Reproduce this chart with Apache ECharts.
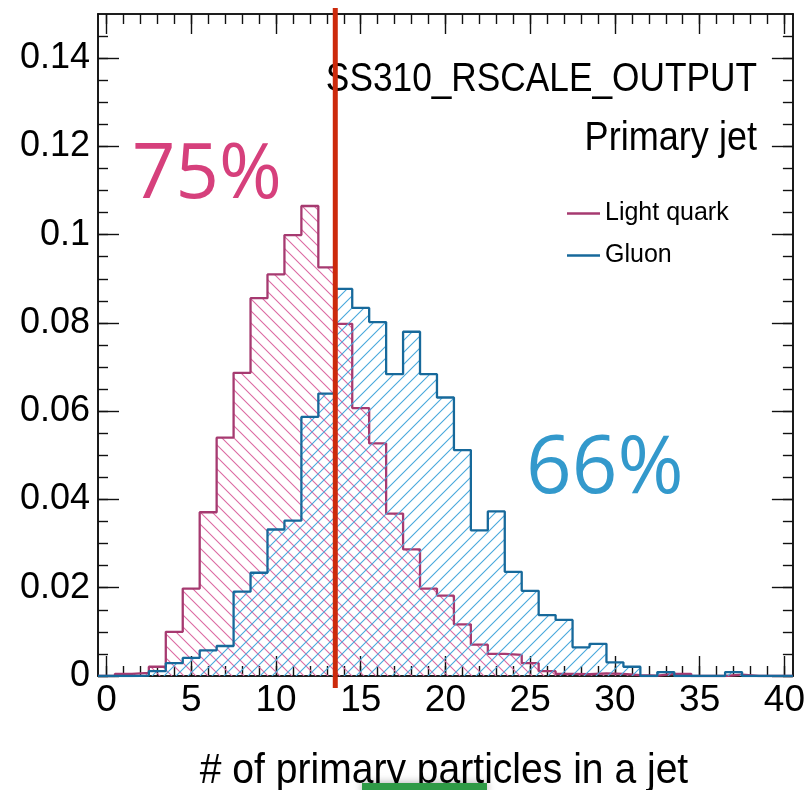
<!DOCTYPE html>
<html>
<head>
<meta charset="utf-8">
<script src="https://cdn.jsdelivr.net/npm/echarts@6/dist/echarts.min.js"></script>
<style>
  html, body { margin: 0; padding: 0; background: #fff; }
  #chart { width: 808px; height: 790px; }
</style>
</head>
<body>
<div id="chart"></div>
<script>
// bin contents, one entry per integer bin 0..40 (bin width 1)
const lightQuark = [
  0, 0.0005, 0.0007, 0.0021, 0.0100, 0.0198, 0.0371, 0.0540, 0.0687, 0.0856,
  0.0910, 0.0999, 0.1065, 0.0926, 0.0798, 0.0607, 0.0527, 0.0368, 0.0287, 0.0198,
  0.0182, 0.0117, 0.0071, 0.0050, 0.0048, 0.0029, 0.0011, 0.0005, 0.0004, 0.0006,
  0.0005, 0.0002, 0.0001, 0.0005, 0.0005, 0, 0, 0.0003, 0, 0, 0
]
const gluon = [
  0, 0, 0.0001, 0.0011, 0.0029, 0.0041, 0.0058, 0.0068, 0.0191, 0.0234,
  0.0332, 0.0352, 0.0587, 0.0640, 0.0877, 0.0834, 0.0802, 0.0684, 0.0780, 0.0684,
  0.0631, 0.0512, 0.0330, 0.0373, 0.0236, 0.0193, 0.0138, 0.0127, 0.0065, 0.0073,
  0.0031, 0.0021, 0, 0.0009, 0, 0, 0, 0.0009, 0, 0, 0
]
const seriesNames = ['Light quark', 'Gluon']
const cutValue = 13.5

const xMajorTicks = [0, 5, 10, 15, 20, 25, 30, 35, 40]
const xMinorTicks = Array.from({ length: 41 }, (_, i) => i)
const yMajorTicks = [0, 0.02, 0.04, 0.06, 0.08, 0.1, 0.12, 0.14]
const yMinorTicks = Array.from({ length: 30 }, (_, i) => +(i * 0.005).toFixed(3))

const sans = "'Liberation Sans', Arial, sans-serif"

// hatch pattern tiles
function hatch(color, dir) {
  const s = 12
  const c = document.createElement('canvas')
  c.width = s
  c.height = s
  const ctx = c.getContext('2d')
  ctx.strokeStyle = color
  ctx.lineWidth = 1.1
  ctx.beginPath()
  if (dir === '/') {
    ctx.moveTo(-2, s + 2); ctx.lineTo(s + 2, -2)
    ctx.moveTo(-2, 2); ctx.lineTo(2, -2)
    ctx.moveTo(s - 2, s + 2); ctx.lineTo(s + 2, s - 2)
  } else {
    ctx.moveTo(-2, -2); ctx.lineTo(s + 2, s + 2)
    ctx.moveTo(s - 2, -2); ctx.lineTo(s + 2, 2)
    ctx.moveTo(-2, s - 2); ctx.lineTo(2, s + 2)
  }
  ctx.stroke()
  return c
}
const quarkHatch = hatch('#dc6aa2', '\\')
const gluonHatch = hatch('#48a8dc', '/')

// step points at the lower bin edges, closing at the upper edge of the last bin
function steps(values) {
  const pts = values.map((v, i) => [i - 0.5, v])
  pts.push([values.length - 0.5, values[values.length - 1]])
  return pts
}

const frameLine = { show: true, onZero: false, lineStyle: { color: '#111', width: 1.6 } }

function xAxisDef(position, ticks, len, labels) {
  return {
    type: 'value',
    position: position,
    min: -0.5,
    max: 40.5,
    axisLine: frameLine,
    splitLine: { show: false },
    axisTick: { show: true, inside: true, length: len, customValues: ticks, lineStyle: { color: '#111', width: 1.4 } },
    axisLabel: labels
      ? { show: true, customValues: ticks, margin: 6, color: '#000', fontSize: 37, fontFamily: sans }
      : { show: false }
  }
}

function yAxisDef(position, ticks, len, labels) {
  return {
    type: 'value',
    position: position,
    min: 0,
    max: 0.15,
    axisLine: frameLine,
    splitLine: { show: false },
    axisTick: { show: true, inside: true, length: len, customValues: ticks, lineStyle: { color: '#111', width: 1.4 } },
    axisLabel: labels
      ? {
          show: true, customValues: ticks, margin: 8, color: '#000', fontSize: 36, fontFamily: sans,
          formatter: (v) => String(+(+v).toFixed(2))
        }
      : { show: false }
  }
}

const myChart = echarts.init(document.getElementById('chart'), null, { renderer: 'canvas' })

const option = {
  animation: false,
  backgroundColor: '#fff',
  grid: { left: 98, right: 13, top: 14, bottom: 114, containLabel: false },
  legend: {
    data: seriesNames,
    orient: 'vertical',
    left: 562,
    top: 196,
    icon: 'rect',
    itemWidth: 33,
    itemHeight: 2.5,
    itemGap: 17,
    textStyle: { fontSize: 25, lineHeight: 25, color: '#000', fontFamily: sans }
  },
  xAxis: [
    xAxisDef('bottom', xMajorTicks, 20, true),
    xAxisDef('bottom', xMinorTicks, 10, false),
    xAxisDef('top', xMajorTicks, 20, false),
    xAxisDef('top', xMinorTicks, 10, false)
  ],
  yAxis: [
    yAxisDef('left', yMajorTicks, 21, true),
    yAxisDef('left', yMinorTicks, 10, false),
    yAxisDef('right', yMajorTicks, 21, false),
    yAxisDef('right', yMinorTicks, 10, false)
  ],
  series: [
    {
      name: seriesNames[0],
      type: 'line',
      step: 'end',
      symbol: 'none',
      data: steps(lightQuark),
      itemStyle: { color: '#a63a70' },
      lineStyle: { color: '#a63a70', width: 2.3 },
      areaStyle: { color: { image: quarkHatch, repeat: 'repeat' }, opacity: 1 },
      z: 2
    },
    {
      name: seriesNames[1],
      type: 'line',
      step: 'end',
      symbol: 'none',
      data: steps(gluon),
      itemStyle: { color: '#17699b' },
      lineStyle: { color: '#17699b', width: 2.3 },
      areaStyle: { color: { image: gluonHatch, repeat: 'repeat' }, opacity: 1 },
      z: 3
    }
  ]
}
myChart.setOption(option)

// annotations, the cut line is placed through the x axis scale
const cutX = myChart.convertToPixel({ xAxisIndex: 0 }, cutValue)
const yTop = myChart.convertToPixel({ yAxisIndex: 0 }, 0.15)
const yBottom = myChart.convertToPixel({ yAxisIndex: 0 }, 0)

myChart.setOption({
  graphic: [
    {
      type: 'line',
      z: 100,
      shape: { x1: cutX, y1: yTop - 6, x2: cutX, y2: yBottom + 12 },
      style: { stroke: '#cc2a0c', lineWidth: 5 }
    },
    {
      type: 'text', z: 50, x: 757, y: 80, scaleX: 0.86,
      style: { text: 'SS310_RSCALE_OUTPUT', align: 'right', verticalAlign: 'middle', fontSize: 41, fontFamily: sans, fill: '#000' }
    },
    {
      type: 'text', z: 50, x: 757, y: 139, scaleX: 0.88,
      style: { text: 'Primary jet', align: 'right', verticalAlign: 'middle', fontSize: 41, fontFamily: sans, fill: '#000' }
    },
    {
      type: 'text', z: 50, x: 132, y: 176,
      style: { text: '75%', align: 'left', verticalAlign: 'middle', fontSize: 76, fontFamily: "'Open Sans', 'Noto Sans', sans-serif", fill: '#d6407c' }
    },
    {
      type: 'text', z: 50, x: 526, y: 470,
      style: { text: '66%', align: 'left', verticalAlign: 'middle', fontSize: 80, fontFamily: "'Open Sans', 'Noto Sans', sans-serif", fill: '#3399cc' }
    },
    {
      type: 'text', z: 50, x: 444, y: 771, scaleX: 0.93,
      style: { text: '# of primary particles in a jet', align: 'center', verticalAlign: 'middle', fontSize: 42, fontFamily: sans, fill: '#000' }
    },
    {
      type: 'rect', z: 60,
      shape: { x: 362, y: 783, width: 125, height: 10 },
      style: { fill: '#2f9a46', shadowBlur: 8, shadowColor: 'rgba(0,0,0,0.35)' }
    }
  ]
})
</script>
</body>
</html>
